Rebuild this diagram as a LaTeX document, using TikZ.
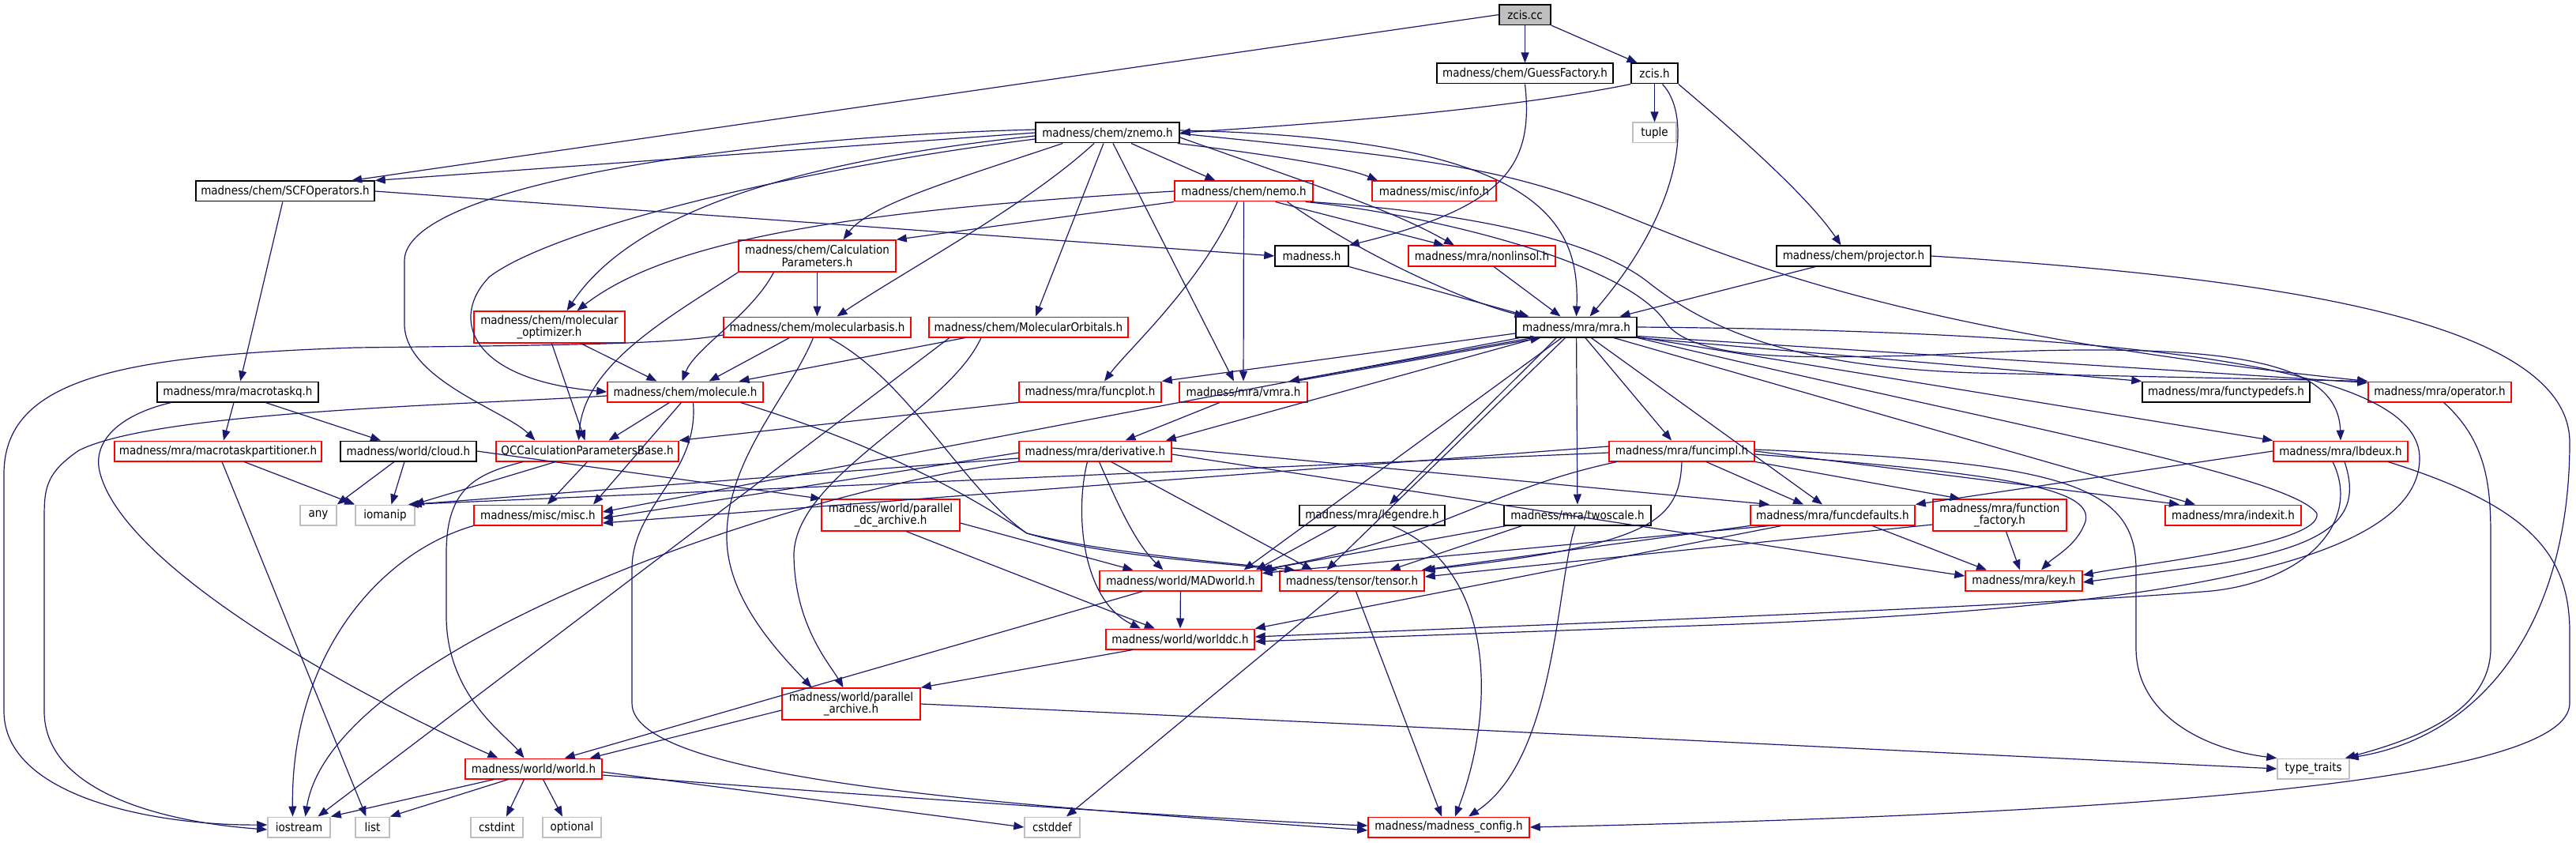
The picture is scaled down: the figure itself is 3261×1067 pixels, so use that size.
\documentclass[tikz,border=0pt]{standalone}
\usepackage{fontspec}
\setmainfont{DejaVu Sans Condensed}
\usetikzlibrary{arrows.meta}
\definecolor{edgec}{HTML}{191970}
\definecolor{redc}{HTML}{FF0000}
\definecolor{grayc}{HTML}{BFBFBF}
\begin{document}
\begin{tikzpicture}[x=1pt,y=-1pt,
  base/.style={rectangle, inner sep=0pt, font=\fontsize{15pt}{15.5pt}\selectfont, align=center, minimum height=25.5pt, fill=white, line width=1.5pt},
  blk/.style={base, draw=black},
  rd/.style={base, draw=redc},
  gr/.style={base, draw=grayc},
  dbl/.style={minimum height=40pt},
  ed/.style={draw=edgec, line width=1.2pt, -{Triangle[length=13pt,width=10pt]}}]
\useasboundingbox (0,0) rectangle (3261,1067);
% nodes
\node[blk, fill=grayc, minimum width=65pt] (zcc) at (1930.5,18.6) {zcis.cc};
\node[blk, minimum width=223pt] (gf) at (1930.5,93) {madness/chem/GuessFactory.h};
\node[blk, minimum width=59pt] (zh) at (2094.5,93) {zcis.h};
\node[blk, minimum width=182pt] (zn) at (1402,168) {madness/chem/znemo.h};
\node[gr, minimum width=55pt] (tup) at (2094.5,168) {tuple};
\node[blk, minimum width=226pt] (scf) at (361,242) {madness/chem/SCFOperators.h};
\node[rd, minimum width=175pt] (nemo) at (1574.5,242) {madness/chem/nemo.h};
\node[rd, minimum width=157pt] (info) at (1815.5,242) {madness/misc/info.h};
\node[rd, dbl, minimum width=199pt] (cp) at (1034.5,324) {madness/chem/Calculation\\Parameters.h};
\node[blk, minimum width=93pt] (mad) at (1660.5,324) {madness.h};
\node[rd, minimum width=186pt] (nls) at (1876,324) {madness/mra/nonlinsol.h};
\node[blk, minimum width=195pt] (proj) at (2346.5,324) {madness/chem/projector.h};
\node[rd, dbl, minimum width=191pt] (mopt) at (695.5,414) {madness/chem/molecular\\\_optimizer.h};
\node[rd, minimum width=237pt] (mb) at (1034.5,414) {madness/chem/molecularbasis.h};
\node[rd, minimum width=252pt] (mo) at (1302,414) {madness/chem/MolecularOrbitals.h};
\node[blk, minimum width=153pt] (mra) at (1995.5,414) {madness/mra/mra.h};
\node[blk, minimum width=204pt] (mtq) at (301,496) {madness/mra/macrotaskq.h};
\node[rd, minimum width=197pt] (mol) at (867.5,496) {madness/chem/molecule.h};
\node[rd, minimum width=180pt] (fplot) at (1380,496) {madness/mra/funcplot.h};
\node[rd, minimum width=162pt] (vmra) at (1574,496) {madness/mra/vmra.h};
\node[blk, minimum width=212pt] (ftd) at (2818,496) {madness/mra/functypedefs.h};
\node[rd, minimum width=181pt] (op) at (3088.5,496) {madness/mra/operator.h};
\node[rd, minimum width=262pt] (mtp) at (276,571) {madness/mra/macrotaskpartitioner.h};
\node[blk, minimum width=172pt] (cloud) at (517,571) {madness/world/cloud.h};
\node[rd, minimum width=231pt] (qcc) at (743.5,571) {QCCalculationParametersBase.h};
\node[rd, minimum width=193pt] (der) at (1386.5,571) {madness/mra/derivative.h};
\node[rd, minimum width=184pt] (fimpl) at (2129,571) {madness/mra/funcimpl.h};
\node[rd, minimum width=170pt] (lbd) at (2963,571) {madness/mra/lbdeux.h};
\node[gr, minimum width=46pt] (any) at (403,652) {any};
\node[gr, minimum width=75pt] (iom) at (487.5,652) {iomanip};
\node[rd, minimum width=162pt] (misc) at (681,652) {madness/misc/misc.h};
\node[rd, dbl, minimum width=175pt] (pdc) at (1127.5,652) {madness/world/parallel\\\_dc\_archive.h};
\node[blk, minimum width=184pt] (leg) at (1737,652) {madness/mra/legendre.h};
\node[blk, minimum width=186pt] (two) at (1997,652) {madness/mra/twoscale.h};
\node[rd, minimum width=208pt] (fdef) at (2320,652) {madness/mra/funcdefaults.h};
\node[rd, dbl, minimum width=169pt] (ffac) at (2531.5,652) {madness/mra/function\\\_factory.h};
\node[rd, minimum width=172pt] (idx) at (2827,652) {madness/mra/indexit.h};
\node[rd, minimum width=205pt] (madw) at (1494.5,735) {madness/world/MADworld.h};
\node[rd, minimum width=183pt] (ten) at (1711.5,735) {madness/tensor/tensor.h};
\node[rd, minimum width=148pt] (key) at (2562,735) {madness/mra/key.h};
\node[rd, minimum width=188pt] (wdc) at (1494,809) {madness/world/worlddc.h};
\node[rd, dbl, minimum width=175pt] (par) at (1077.5,891) {madness/world/parallel\\\_archive.h};
\node[rd, minimum width=173pt] (world) at (675.5,973) {madness/world/world.h};
\node[gr, minimum width=91pt] (tt) at (2928.5,973) {type\_traits};
\node[gr, minimum width=79pt] (ios) at (378.5,1047) {iostream};
\node[gr, minimum width=43pt] (list) at (471.5,1047) {list};
\node[gr, minimum width=66pt] (cint) at (629,1047) {cstdint};
\node[gr, minimum width=74pt] (opt) at (724,1047) {optional};
\node[gr, minimum width=70pt] (cdef) at (1332,1047) {cstddef};
\node[rd, minimum width=204pt] (mcfg) at (1834,1047) {madness/madness\_config.h};
% edges: zcis.cc
\draw[ed] (zcc) -- (gf);
\draw[ed] (zcc.south east) -- ([xshift=-22pt]zh.north);
\draw[ed] (zcc.west) -- ([xshift=84pt]scf.north);
% GuessFactory, zcis.h
\draw[ed] (gf.south) .. controls (1942,210) and (1905,262) .. (mad.north east);
\draw[ed] (zh) -- (tup);
\draw[ed] (zh.south west) .. controls (1900,140) and (1650,158) .. (zn.east);
\draw[ed] ([xshift=10pt]zh.south) .. controls (2145,150) and (2125,270) .. ([xshift=17pt]mra.north);
\draw[ed] (zh.south east) .. controls (2200,170) and (2290,250) .. ([xshift=-16pt]proj.north);
% znemo
\draw[ed] (zn.west) -- (scf.north east);
\draw[ed] ([xshift=30pt]zn.south) -- ([xshift=-36pt]nemo.north);
\draw[ed] ([xshift=-3pt]zn.south east) .. controls (1600,195) and (1700,210) .. ([xshift=8pt]info.north west);
\draw[ed] ([yshift=-6pt]zn.east) .. controls (1680,240) and (1760,265) .. ([xshift=-35pt]nls.north);
\draw[ed] ([xshift=35pt]zn.south west) .. controls (1200,230) and (1100,260) .. ([xshift=33pt]cp.north);
\draw[ed] ([xshift=-17pt]zn.south) .. controls (1300,260) and (1150,340) .. ([xshift=25pt]mb.north);
\draw[ed] ([xshift=-5pt]zn.south) -- ([xshift=9pt]mo.north);
\draw[ed] ([xshift=7pt]zn.south) -- ([xshift=-12pt]vmra.north);
\draw[ed] ([yshift=3pt]zn.east) .. controls (1950,175) and (2000,280) .. (mra.north);
\draw[ed] ([yshift=-1pt]zn.east) .. controls (1800,200) and (1900,210) .. (2050,270) .. controls (2200,330) and (2400,420) .. (op.north west);
\draw[ed] ([yshift=-4pt]zn.west) .. controls (1000,205) and (800,270) .. ([xshift=22pt]mopt.north);
\draw[ed] ([yshift=-8pt]zn.west) .. controls (1000,215) and (700,290) .. (620,350) .. controls (570,400) and (590,480) .. (mol.west);
\draw[ed] ([yshift=4pt]zn.west) .. controls (900,175) and (512,240) .. (512,330) -- (512,410) .. controls (512,480) and (640,520) .. ([xshift=-66pt]qcc.north);
% SCFOperators
\draw[ed] (scf.east) -- (mad.west);
\draw[ed] (scf) -- (mtq);
% nemo
\draw[ed] (nemo.south west) -- (cp.north east);
\draw[ed] (nemo.west) .. controls (1100,265) and (850,300) .. ([xshift=35pt]mopt.north);
\draw[ed] ([xshift=40pt]nemo.south) -- ([xshift=-48pt]nls.north);
\draw[ed] ([xshift=55pt]nemo.south) .. controls (1720,320) and (1850,380) .. ([xshift=-65pt]mra.north);
\draw[ed] ([xshift=-8pt]nemo.south) .. controls (1520,360) and (1430,440) .. ([xshift=18pt]fplot.north);
\draw[ed] (nemo) -- (vmra);
\draw[ed] ([xshift=-4pt]nemo.south east) .. controls (1760,262) and (2000,285) .. (2090,360) .. controls (2180,430) and (2300,465) .. (2500,472) -- (op.north west);
\draw[ed] ([xshift=-10pt]nemo.south east) .. controls (1800,270) and (2060,330) .. (2110,410) .. controls (2150,460) and (2300,452) .. (2430,450) .. controls (2800,430) and (2960,450) .. (lbd.north);
% madness.h, nonlinsol, projector
\draw[ed] (mad.south east) -- ([xshift=-60pt]mra.north);
\draw[ed] ([xshift=15pt]nls.south) -- ([xshift=-20pt]mra.north);
\draw[ed] ([xshift=-48pt]proj.south) -- ([xshift=55pt]mra.north);
\draw[ed] (proj.east) .. controls (2850,350) and (3253,400) .. (3253,560) .. controls (3253,780) and (3150,930) .. ([xshift=-2pt]tt.north east);
% CalculationParameters, molecular_optimizer, molecularbasis, MolecularOrbitals
\draw[ed] (cp) -- (mb);
\draw[ed] ([xshift=-55pt]cp.south) .. controls (950,400) and (880,440) .. ([xshift=-4pt]mol.north);
\draw[ed] (cp.south west) .. controls (850,400) and (740,460) .. ([xshift=-11pt]qcc.north);
\draw[ed] ([xshift=40pt]mopt.south) -- ([xshift=-36pt]mol.north);
\draw[ed] ([xshift=3pt]mopt.south) -- ([xshift=-3pt]qcc.north);
\draw[ed] ([xshift=-35pt]mb.south) -- ([xshift=30pt]mol.north);
\draw[ed] ([yshift=-10pt]mb.west) .. controls (850,436) and (700,437) .. (450,440) .. controls (150,450) and (5,480) .. (5,600) -- (5,900) .. controls (5,1010) and (200,1045) .. ([yshift=3pt]ios.west);
\draw[ed] ([xshift=15pt]mb.south) .. controls (1150,480) and (1220,620) .. (1300,675) .. controls (1400,700) and (1550,712) .. ([xshift=20pt]ten.north west);
\draw[ed] ([xshift=-5pt]mb.south) .. controls (1000,500) and (920,580) .. (920,680) .. controls (920,760) and (990,830) .. ([xshift=-50pt]par.north);
\draw[ed] ([xshift=-80pt]mo.south) -- ([xshift=68pt]mol.north);
\draw[ed] ([xshift=-60pt]mo.south) .. controls (1200,520) and (1010,600) .. (1005,700) .. controls (1005,790) and (1050,840) .. ([xshift=-10pt]par.north);
\draw[ed] ([xshift=-100pt]mo.south) -- ([xshift=24pt]ios.north);
% mra.h
\draw[ed] ([xshift=-55pt]mra.south) -- ([xshift=58pt]vmra.north);
\draw[ed] ([xshift=66pt]vmra.north) -- ([xshift=-45pt]mra.south);
\draw[ed] ([yshift=-8pt]mra.west) -- (fplot.north east);
\draw[ed] (mra) -- ([xshift=-8pt]der.north east);
\draw[ed] (mra) -- ([yshift=4pt]misc.east);
\draw[ed] (mra) -- ([xshift=80pt]madw.north);
\draw[ed] (mra) -- ([xshift=-32pt]ten.north);
\draw[ed] ([xshift=-25pt]mra.south) -- ([xshift=22pt]leg.north);
\draw[ed] (mra) -- (two);
\draw[ed] (mra) -- ([xshift=-13pt]fimpl.north);
\draw[ed] (mra) -- ([xshift=-13pt]fdef.north);
\draw[ed] (mra) -- ([xshift=-48pt]idx.north);
\draw[ed] (mra.south east) -- (ftd.north west);
\draw[ed] ([yshift=2pt]mra.south east) -- ([yshift=-2pt]op.north west);
\draw[ed] (mra) -- (lbd.north west);
\draw[ed] (mra.south east) .. controls (2500,530) and (2900,600) .. (2933,650) .. controls (2940,690) and (2700,715) .. ([yshift=7pt]key.east);
\draw[ed] (mra.east) .. controls (2800,420) and (3063,480) .. (3063,580) .. controls (3063,720) and (2700,770) .. (2200,790) -- ([yshift=-3pt]wdc.east);
% vmra, funcplot
\draw[ed] ([xshift=-30pt]vmra.south) -- ([xshift=38pt]der.north);
\draw[ed] (fplot.south west) -- (qcc.north east);
% molecule
\draw[ed] ([xshift=-20pt]mol.south) -- ([xshift=27pt]qcc.north);
\draw[ed] ([xshift=-5pt]mol.south) -- ([xshift=70pt]misc.north);
\draw[ed] ([yshift=-5pt]mol.west) .. controls (600,512) and (200,520) .. (100,570) .. controls (56,600) and (56,620) .. (56,660) -- (56,900) .. controls (56,1000) and (200,1040) .. ([yshift=-3pt]ios.west);
\draw[ed] ([xshift=70pt]mol.south) .. controls (1100,560) and (1200,610) .. (1300,675) .. controls (1400,705) and (1550,712) .. ([xshift=-2pt]ten.north west);
\draw[ed] ([xshift=10pt]mol.south) .. controls (885,600) and (800,640) .. (800,720) -- (800,890) .. controls (800,990) and (1300,1020) .. ([yshift=-4pt]mcfg.west);
% macrotaskq etc
\draw[ed] ([xshift=-5pt]mtq.south) -- ([xshift=7pt]mtp.north);
\draw[ed] ([xshift=35pt]mtq.south) -- ([xshift=-35pt]cloud.north);
\draw[ed] ([xshift=-84pt]mtq.south) .. controls (150,525) and (115,560) .. (127,600) .. controls (160,720) and (450,880) .. ([xshift=-45pt]world.north);
\draw[ed] ([xshift=33pt]mtp.south) -- (iom.north west);
\draw[ed] ([xshift=5pt]mtp.south) -- ([xshift=-8pt]list.north);
\draw[ed] ([xshift=-18pt]cloud.south) -- (any.north east);
\draw[ed] ([xshift=-5pt]cloud.south) -- ([xshift=8pt]iom.north);
\draw[ed] (cloud.east) -- (pdc.north west);
% QCCalculationParametersBase
\draw[ed] ([xshift=-40pt]qcc.south) -- ([xshift=-2pt]iom.north east);
\draw[ed] (qcc.south) -- ([xshift=12pt]misc.north);
\draw[ed] ([xshift=-81pt]qcc.south) .. controls (600,600) and (565,620) .. (565,700) -- (565,780) .. controls (565,880) and (640,930) .. ([xshift=-12pt]world.north);
% misc
\draw[ed] (misc.south west) .. controls (480,700) and (368,830) .. ([xshift=-8pt]ios.north);
% derivative
\draw[ed] ([xshift=5pt]der.south) .. controls (1420,650) and (1440,690) .. ([xshift=-22pt]madw.north);
\draw[ed] ([xshift=-10pt]der.south) .. controls (1360,650) and (1370,760) .. ([xshift=-50pt]wdc.north);
\draw[ed] ([xshift=20pt]der.south) -- ([xshift=-50pt]ten.north);
\draw[ed] ([yshift=4pt]der.east) -- ([xshift=-80pt]fdef.north);
\draw[ed] ([yshift=-4pt]der.east) -- ([yshift=6pt]key.west);
\draw[ed] ([yshift=-2pt]der.west) -- ([yshift=-4pt]misc.east);
\draw[ed] ([yshift=-9pt]der.west) -- ([xshift=-5pt]iom.north east);
\draw[ed] (der.south west) .. controls (1000,620) and (420,820) .. ([xshift=8pt]ios.north);
% funcimpl
\draw[ed] (fimpl) -- ([xshift=-37pt]fdef.north);
\draw[ed] (fimpl.south east) -- ([xshift=-50pt]ffac.north);
\draw[ed] (fimpl.east) -- ([xshift=-68pt]idx.north);
\draw[ed] ([yshift=-4pt]fimpl.east) .. controls (2550,600) and (2650,620) .. (2640,660) .. controls (2630,690) and (2600,705) .. ([xshift=22pt]key.north);
\draw[ed] ([xshift=-82pt]fimpl.south) .. controls (1880,620) and (1830,680) .. ([xshift=-3pt]madw.north east);
\draw[ed] (fimpl.south) .. controls (2126,660) and (2090,690) .. (ten.north east);
\draw[ed] ([yshift=6pt]fimpl.west) -- ([yshift=-10pt]misc.east);
\draw[ed] ([yshift=-2pt]fimpl.west) -- ([xshift=-9pt]iom.north east);
\draw[ed] ([yshift=2pt]fimpl.east) .. controls (2600,585) and (2704,610) .. (2704,720) -- (2704,820) .. controls (2704,910) and (2800,950) .. (tt.north west);
% lbdeux, operator
\draw[ed] (lbd.west) -- (fdef.north east);
\draw[ed] ([xshift=5pt]lbd.south) .. controls (2990,650) and (2960,690) .. (2800,715) -- ([yshift=-2pt]key.east);
\draw[ed] ([xshift=-10pt]lbd.south) .. controls (2990,660) and (2920,735) .. (2800,748) .. controls (2600,765) and (2100,785) .. ([yshift=3pt]wdc.east);
\draw[ed] ([xshift=60pt]lbd.south) .. controls (3200,640) and (3253,700) .. (3253,800) -- (3253,890) .. controls (3253,990) and (2700,1030) .. (mcfg.east);
\draw[ed] ([xshift=5pt]op.south) .. controls (3150,560) and (3153,620) .. (3153,680) -- (3153,820) .. controls (3153,900) and (3060,935) .. ([xshift=-6pt]tt.north east);
% legendre, twoscale, funcdefaults, function_factory
\draw[ed] ([xshift=-45pt]leg.south) -- ([xshift=-8pt]madw.north east);
\draw[ed] ([xshift=25pt]leg.south) .. controls (1895,720) and (1893,900) .. ([xshift=8pt]mcfg.north);
\draw[ed] ([xshift=-90pt]two.south) -- (madw.north east);
\draw[ed] ([xshift=-70pt]two.south) -- ([xshift=48pt]ten.north);
\draw[ed] ([xshift=-3pt]two.south) .. controls (1970,740) and (1970,960) .. ([xshift=25pt]mcfg.north);
\draw[ed] (fdef.south west) -- ([xshift=-4pt]ten.north east);
\draw[ed] ([xshift=25pt]fdef.south west) -- ([yshift=-4pt]madw.north east);
\draw[ed] ([xshift=40pt]fdef.south west) -- (wdc.north east);
\draw[ed] ([xshift=50pt]fdef.south) -- ([xshift=-47pt]key.north);
\draw[ed] ([xshift=8pt]ffac.south) -- ([xshift=-5pt]key.north);
\draw[ed] ([yshift=-12pt]ffac.west) -- ([yshift=5pt]ten.east);
% world-level
\draw[ed] ([yshift=-10pt]pdc.east) -- ([xshift=-60pt]madw.north);
\draw[ed] ([xshift=20pt]pdc.south) -- ([xshift=-32pt]wdc.north);
\draw[ed] (madw) -- (wdc);
\draw[ed] ([xshift=-48pt]madw.south) -- ([xshift=-48pt]world.north east);
\draw[ed] ([xshift=-60pt]wdc.south) -- (par.north east);
\draw[ed] ([yshift=-8pt]par.west) -- ([xshift=-16pt]world.north east);
\draw[ed] (par.east) .. controls (1700,915) and (2500,955) .. (tt.west);
\draw[ed] ([xshift=5pt]ten.south) -- ([xshift=-9pt]mcfg.north);
\draw[ed] ([xshift=-17pt]ten.south) -- ([xshift=18pt]cdef.north);
\draw[ed] ([xshift=-50pt]world.south) -- (ios.north east);
\draw[ed] ([xshift=-32pt]world.south) -- (list.north east);
\draw[ed] ([xshift=-12pt]world.south) -- ([xshift=12pt]cint.north);
\draw[ed] ([xshift=12pt]world.south) -- ([xshift=-12pt]opt.north);
\draw[ed] ([yshift=-4pt]world.east) -- (cdef.west);
\draw[ed] ([yshift=-8pt]world.east) .. controls (1200,1015) and (1600,1040) .. ([yshift=2pt]mcfg.west);
\end{tikzpicture}
\end{document}
